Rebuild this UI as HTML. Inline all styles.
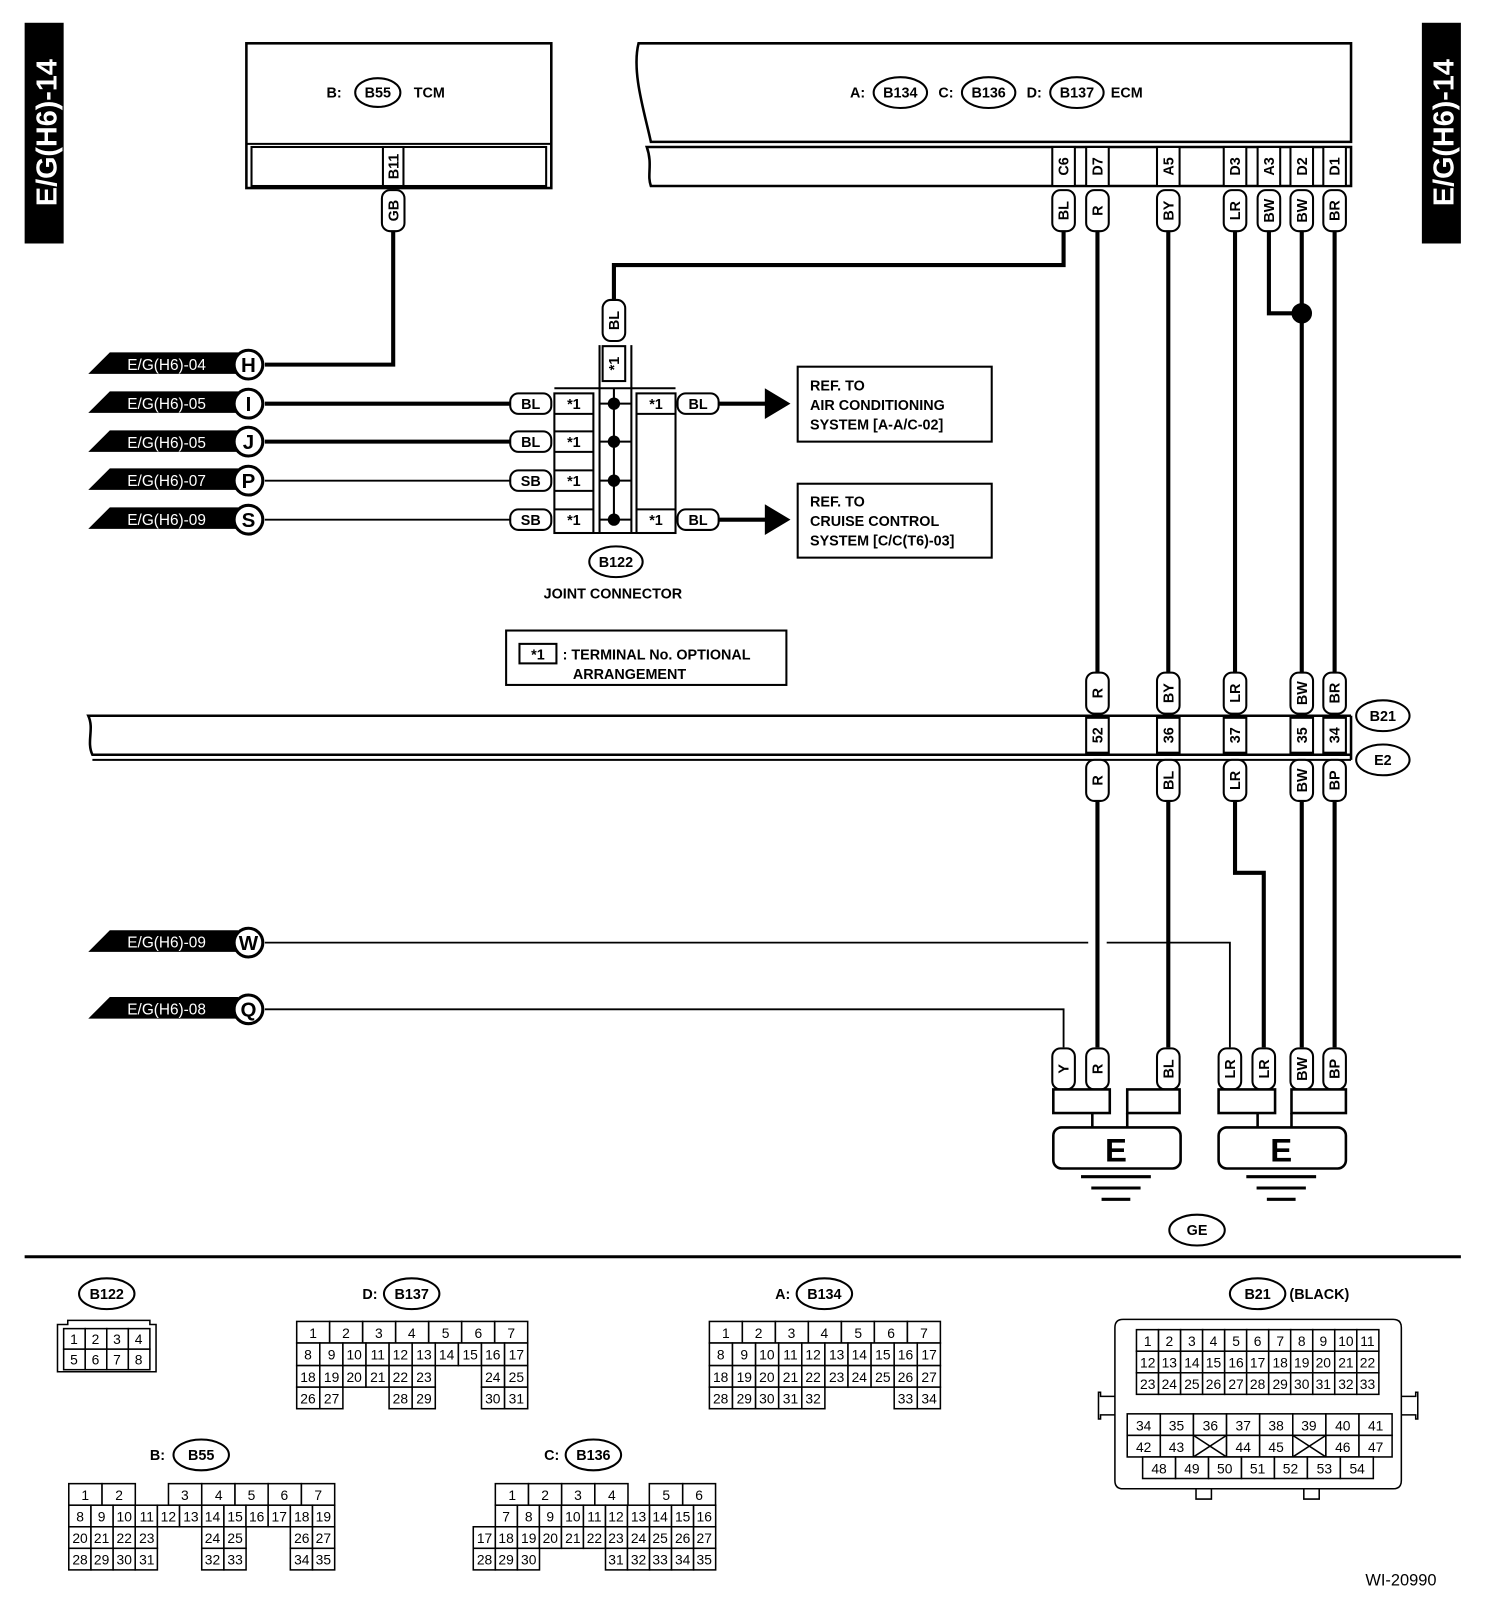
<!DOCTYPE html>
<html><head><meta charset="utf-8"><style>
html,body{margin:0;padding:0;background:#fff}
svg{display:block}
text{font-family:"Liberation Sans",sans-serif;font-weight:bold;font-size:14px;fill:#000}
.c rect{fill:#fff;stroke:#000;stroke-width:1.5}
.c text{font-size:13.5px;font-weight:normal;text-anchor:middle}
.p rect{fill:#fff;stroke:#000;stroke-width:2}
.p text{font-size:14px;text-anchor:middle}
.w{stroke:#000;stroke-width:4;fill:none}
.t{stroke:#000;stroke-width:1.8;fill:none}
.fl text{fill:#fff;font-weight:normal;font-size:15px}
</style></head><body>
<svg width="1504" height="1606" viewBox="0 0 1465 1564" xmlns="http://www.w3.org/2000/svg">
<rect x="24" y="22" width="38" height="215" fill="#000"/>
<text transform="translate(55,129) rotate(-90)" text-anchor="middle" style="fill:#fff;font-size:28px;font-weight:bold">E/G(H6)-14</text>
<rect x="1385" y="22" width="38" height="215" fill="#000"/>
<text transform="translate(1416,129) rotate(-90)" text-anchor="middle" style="fill:#fff;font-size:28px;font-weight:bold">E/G(H6)-14</text>

<rect x="240" y="42" width="297" height="141" fill="none" stroke="#000" stroke-width="2.5"/>
<rect x="245" y="143" width="287" height="38" fill="none" stroke="#000" stroke-width="2"/>
<line x1="240" y1="140" x2="537" y2="140" stroke="#000" stroke-width="2"/>
<text x="318" y="95">B:</text>
<ellipse cx="368" cy="90" rx="22" ry="14" fill="none" stroke="#000" stroke-width="2"/>
<text x="368" y="95" text-anchor="middle">B55</text>
<text x="403" y="95">TCM</text>
<g class="p"><g transform="translate(383,162) rotate(-90)"><rect x="-19" y="-10" width="38" height="20" rx="0"/><text y="5">B11</text></g></g>

<path d="M1316 42 H622 C615 70 628 110 634 138 H1316 Z" fill="none" stroke="#000" stroke-width="2.5"/>
<path d="M1316 143 H630 C636 160 630 170 634 181 H1316 Z" fill="none" stroke="#000" stroke-width="2.5"/>
<text x="828" y="95">A:</text>
<ellipse cx="877" cy="90" rx="26" ry="15" fill="none" stroke="#000" stroke-width="2"/><text x="877" y="95" text-anchor="middle">B134</text>
<text x="914" y="95">C:</text>
<ellipse cx="963" cy="90" rx="26" ry="15" fill="none" stroke="#000" stroke-width="2"/><text x="963" y="95" text-anchor="middle">B136</text>
<text x="1000" y="95">D:</text>
<ellipse cx="1049" cy="90" rx="26" ry="15" fill="none" stroke="#000" stroke-width="2"/><text x="1049" y="95" text-anchor="middle">B137</text>
<text x="1082" y="95">ECM</text>
<g class="p">
<g transform="translate(1036,162) rotate(-90)"><rect x="-19" y="-11" width="38" height="22"/><text y="5">C6</text></g>
<g transform="translate(1069,162) rotate(-90)"><rect x="-19" y="-11" width="38" height="22"/><text y="5">D7</text></g>
<g transform="translate(1138,162) rotate(-90)"><rect x="-19" y="-11" width="38" height="22"/><text y="5">A5</text></g>
<g transform="translate(1203,162) rotate(-90)"><rect x="-19" y="-11" width="38" height="22"/><text y="5">D3</text></g>
<g transform="translate(1236,162) rotate(-90)"><rect x="-19" y="-11" width="38" height="22"/><text y="5">A3</text></g>
<g transform="translate(1268,162) rotate(-90)"><rect x="-19" y="-11" width="38" height="22"/><text y="5">D2</text></g>
<g transform="translate(1300,162) rotate(-90)"><rect x="-19" y="-11" width="38" height="22"/><text y="5">D1</text></g>
</g>

<path class="w" d="M383 225 V355 H258"/>
<path class="w" d="M1036 225 V258 H598 V292"/>
<path class="w" d="M1069 225 V655 M1069 780 V1020"/>
<path class="w" d="M1138 225 V655 M1138 780 V1020"/>
<path class="w" d="M1203 225 V655 M1203 780 V850 H1231 V1020"/>
<path class="w" d="M1236 225 V305 H1268"/>
<circle cx="1268" cy="305" r="10" fill="#000"/>
<path class="w" d="M1268 225 V655 M1268 780 V1020"/>
<path class="w" d="M1300 225 V655 M1300 780 V1020"/>
<path class="w" d="M258 393 H497 M258 430 H497 M660 393 H748 M660 506 H748"/>
<path class="t" d="M258 468 H497 M258 506 H497"/>
<path class="t" d="M258 918 H1060 M1078 918 H1198 V1020"/>
<path class="t" d="M258 983 H1036 V1020"/>
<polygon points="745,378 770,393 745,408" fill="#000"/>
<polygon points="745,491 770,506 745,521" fill="#000"/>

<g class="p">
<g transform="translate(383,205) rotate(-90)"><rect x="-20" y="-11" width="40" height="22" rx="8"/><text y="5">GB</text></g>
<g transform="translate(1036,205) rotate(-90)"><rect x="-20" y="-11" width="40" height="22" rx="8"/><text y="5">BL</text></g>
<g transform="translate(1069,205) rotate(-90)"><rect x="-20" y="-11" width="40" height="22" rx="8"/><text y="5">R</text></g>
<g transform="translate(1138,205) rotate(-90)"><rect x="-20" y="-11" width="40" height="22" rx="8"/><text y="5">BY</text></g>
<g transform="translate(1203,205) rotate(-90)"><rect x="-20" y="-11" width="40" height="22" rx="8"/><text y="5">LR</text></g>
<g transform="translate(1236,205) rotate(-90)"><rect x="-20" y="-11" width="40" height="22" rx="8"/><text y="5">BW</text></g>
<g transform="translate(1268,205) rotate(-90)"><rect x="-20" y="-11" width="40" height="22" rx="8"/><text y="5">BW</text></g>
<g transform="translate(1300,205) rotate(-90)"><rect x="-20" y="-11" width="40" height="22" rx="8"/><text y="5">BR</text></g>
<g transform="translate(598,312) rotate(-90)"><rect x="-20" y="-11" width="40" height="22" rx="8"/><text y="5">BL</text></g>
<g transform="translate(598,354) rotate(-90)"><rect x="-17" y="-11" width="34" height="22"/><text y="5">*1</text></g>
</g>

<g class="fl">
<polygon points="86,364 107,343 232,343 232,364" fill="#000"/><text x="124" y="360">E/G(H6)-04</text>
<polygon points="86,402 107,381 232,381 232,402" fill="#000"/><text x="124" y="398">E/G(H6)-05</text>
<polygon points="86,440 107,419 232,419 232,440" fill="#000"/><text x="124" y="436">E/G(H6)-05</text>
<polygon points="86,477 107,456 232,456 232,477" fill="#000"/><text x="124" y="473">E/G(H6)-07</text>
<polygon points="86,515 107,494 232,494 232,515" fill="#000"/><text x="124" y="511">E/G(H6)-09</text>
<polygon points="86,927 107,906 232,906 232,927" fill="#000"/><text x="124" y="923">E/G(H6)-09</text>
<polygon points="86,992 107,971 232,971 232,992" fill="#000"/><text x="124" y="988">E/G(H6)-08</text>
</g>
<g fill="#fff" stroke="#000" stroke-width="3">
<circle cx="242" cy="355" r="14"/><circle cx="242" cy="393" r="14"/><circle cx="242" cy="430" r="14"/><circle cx="242" cy="468" r="14"/><circle cx="242" cy="506" r="14"/><circle cx="242" cy="918" r="14"/><circle cx="242" cy="983" r="14"/>
</g>
<g text-anchor="middle">
<text x="242" y="362" style="font-size:20px">H</text><text x="242" y="400" style="font-size:20px">I</text><text x="242" y="437" style="font-size:20px">J</text><text x="242" y="475" style="font-size:20px">P</text><text x="242" y="513" style="font-size:20px">S</text><text x="242" y="925" style="font-size:20px">W</text><text x="242" y="990" style="font-size:20px">Q</text>
</g>

<g class="p">
<rect x="497" y="383" width="40" height="20" rx="8"/><text x="517" y="398">BL</text>
<rect x="497" y="420" width="40" height="20" rx="8"/><text x="517" y="435">BL</text>
<rect x="497" y="458" width="40" height="20" rx="8"/><text x="517" y="473">SB</text>
<rect x="497" y="496" width="40" height="20" rx="8"/><text x="517" y="511">SB</text>
<rect x="660" y="383" width="40" height="20" rx="8"/><text x="680" y="398">BL</text>
<rect x="660" y="496" width="40" height="20" rx="8"/><text x="680" y="511">BL</text>
</g>
<g fill="none" stroke="#000" stroke-width="2">
<path d="M540 378 H658 M540 519 H658"/>
<rect x="540" y="383" width="38" height="136"/>
<path d="M540 403 H578 M540 420 H578 M540 440 H578 M540 458 H578 M540 478 H578 M540 496 H578"/>
<path d="M584 336 V519 M615 336 V519"/>
<rect x="620" y="383" width="38" height="136"/>
<path d="M620 403 H658 M620 496 H658"/>
<path d="M598 378 V506 M584 393 H615 M584 430 H615 M584 468 H615 M584 506 H615"/>
</g>
<g fill="#000"><circle cx="598" cy="393" r="6"/><circle cx="598" cy="430" r="6"/><circle cx="598" cy="468" r="6"/><circle cx="598" cy="506" r="6"/></g>
<g text-anchor="middle">
<text x="559" y="398">*1</text><text x="559" y="435">*1</text><text x="559" y="473">*1</text><text x="559" y="511">*1</text>
<text x="639" y="398">*1</text><text x="639" y="511">*1</text>
</g>
<ellipse cx="600" cy="547" rx="26" ry="15" fill="none" stroke="#000" stroke-width="2"/><text x="600" y="552" text-anchor="middle">B122</text>
<text x="597" y="583" text-anchor="middle">JOINT CONNECTOR</text>

<rect x="777" y="357" width="189" height="73" fill="none" stroke="#000" stroke-width="2"/>
<text x="789" y="380">REF. TO</text><text x="789" y="399">AIR CONDITIONING</text><text x="789" y="418">SYSTEM [A-A/C-02]</text>
<rect x="777" y="471" width="189" height="72" fill="none" stroke="#000" stroke-width="2"/>
<text x="789" y="493">REF. TO</text><text x="789" y="512">CRUISE CONTROL</text><text x="789" y="531">SYSTEM [C/C(T6)-03]</text>

<rect x="493" y="614" width="273" height="53" fill="none" stroke="#000" stroke-width="2"/>
<rect x="506" y="627" width="36" height="19" fill="none" stroke="#000" stroke-width="2"/>
<text x="524" y="642" text-anchor="middle">*1</text>
<text x="548" y="642">: TERMINAL No. OPTIONAL</text>
<text x="558" y="661">ARRANGEMENT</text>

<path d="M1316 697 H86 C92 710 84 722 90 735 H1316" fill="none" stroke="#000" stroke-width="2.5"/>
<path d="M1316 740 H90" fill="none" stroke="#000" stroke-width="2"/>
<path d="M1316 697 V740" stroke="#000" stroke-width="2.5"/>
<g class="p">
<g transform="translate(1069,716) rotate(-90)"><rect x="-17" y="-11" width="34" height="22"/><text y="5">52</text></g>
<g transform="translate(1138,716) rotate(-90)"><rect x="-17" y="-11" width="34" height="22"/><text y="5">36</text></g>
<g transform="translate(1203,716) rotate(-90)"><rect x="-17" y="-11" width="34" height="22"/><text y="5">37</text></g>
<g transform="translate(1268,716) rotate(-90)"><rect x="-17" y="-11" width="34" height="22"/><text y="5">35</text></g>
<g transform="translate(1300,716) rotate(-90)"><rect x="-17" y="-11" width="34" height="22"/><text y="5">34</text></g>
<g transform="translate(1069,675) rotate(-90)"><rect x="-20" y="-11" width="40" height="22" rx="8"/><text y="5">R</text></g>
<g transform="translate(1138,675) rotate(-90)"><rect x="-20" y="-11" width="40" height="22" rx="8"/><text y="5">BY</text></g>
<g transform="translate(1203,675) rotate(-90)"><rect x="-20" y="-11" width="40" height="22" rx="8"/><text y="5">LR</text></g>
<g transform="translate(1268,675) rotate(-90)"><rect x="-20" y="-11" width="40" height="22" rx="8"/><text y="5">BW</text></g>
<g transform="translate(1300,675) rotate(-90)"><rect x="-20" y="-11" width="40" height="22" rx="8"/><text y="5">BR</text></g>
<g transform="translate(1069,760) rotate(-90)"><rect x="-20" y="-11" width="40" height="22" rx="8"/><text y="5">R</text></g>
<g transform="translate(1138,760) rotate(-90)"><rect x="-20" y="-11" width="40" height="22" rx="8"/><text y="5">BL</text></g>
<g transform="translate(1203,760) rotate(-90)"><rect x="-20" y="-11" width="40" height="22" rx="8"/><text y="5">LR</text></g>
<g transform="translate(1268,760) rotate(-90)"><rect x="-20" y="-11" width="40" height="22" rx="8"/><text y="5">BW</text></g>
<g transform="translate(1300,760) rotate(-90)"><rect x="-20" y="-11" width="40" height="22" rx="8"/><text y="5">BP</text></g>
<g transform="translate(1036,1041) rotate(-90)"><rect x="-20" y="-11" width="40" height="22" rx="8"/><text y="5">Y</text></g>
<g transform="translate(1069,1041) rotate(-90)"><rect x="-20" y="-11" width="40" height="22" rx="8"/><text y="5">R</text></g>
<g transform="translate(1138,1041) rotate(-90)"><rect x="-20" y="-11" width="40" height="22" rx="8"/><text y="5">BL</text></g>
<g transform="translate(1198,1041) rotate(-90)"><rect x="-20" y="-11" width="40" height="22" rx="8"/><text y="5">LR</text></g>
<g transform="translate(1231,1041) rotate(-90)"><rect x="-20" y="-11" width="40" height="22" rx="8"/><text y="5">LR</text></g>
<g transform="translate(1268,1041) rotate(-90)"><rect x="-20" y="-11" width="40" height="22" rx="8"/><text y="5">BW</text></g>
<g transform="translate(1300,1041) rotate(-90)"><rect x="-20" y="-11" width="40" height="22" rx="8"/><text y="5">BP</text></g>
</g>
<ellipse cx="1347" cy="697" rx="26" ry="15" fill="#fff" stroke="#000" stroke-width="2"/><text x="1347" y="702" text-anchor="middle">B21</text>
<ellipse cx="1347" cy="740" rx="26" ry="15" fill="#fff" stroke="#000" stroke-width="2"/><text x="1347" y="745" text-anchor="middle">E2</text>

<g fill="#fff" stroke="#000" stroke-width="2.5">
<rect x="1026" y="1061" width="55" height="23"/><rect x="1098" y="1061" width="51" height="23"/>
<rect x="1187" y="1061" width="55" height="23"/><rect x="1258" y="1061" width="53" height="23"/>
<rect x="1026" y="1098" width="124" height="40" rx="8"/>
<rect x="1187" y="1098" width="124" height="40" rx="8"/>
<path d="M1064 1084 v14 M1098 1084 v14 M1225 1084 v14 M1258 1084 v14"/>
</g>
<text x="1087" y="1131" text-anchor="middle" style="font-size:32px">E</text>
<text x="1248" y="1131" text-anchor="middle" style="font-size:32px">E</text>
<path d="M1053 1146 H1121 M1063 1157 H1111 M1073 1168 H1101 M1214 1146 H1282 M1224 1157 H1272 M1234 1168 H1262" stroke="#000" stroke-width="3"/>
<ellipse cx="1166" cy="1198" rx="27" ry="15" fill="none" stroke="#000" stroke-width="2"/><text x="1166" y="1203" text-anchor="middle">GE</text>
<line x1="24" y1="1224" x2="1423" y2="1224" stroke="#000" stroke-width="3"/>

<ellipse cx="104" cy="1260" rx="27" ry="15" fill="none" stroke="#000" stroke-width="2"/><text x="104" y="1265" text-anchor="middle">B122</text>
<text x="353" y="1265">D:</text><ellipse cx="401" cy="1260" rx="27" ry="15" fill="none" stroke="#000" stroke-width="2"/><text x="401" y="1265" text-anchor="middle">B137</text>
<text x="755" y="1265">A:</text><ellipse cx="803" cy="1260" rx="27" ry="15" fill="none" stroke="#000" stroke-width="2"/><text x="803" y="1265" text-anchor="middle">B134</text>
<ellipse cx="1225" cy="1260" rx="27" ry="15" fill="none" stroke="#000" stroke-width="2"/><text x="1225" y="1265" text-anchor="middle">B21</text><text x="1256" y="1265">(BLACK)</text>
<text x="146" y="1422">B:</text><ellipse cx="196" cy="1417" rx="27" ry="15" fill="none" stroke="#000" stroke-width="2"/><text x="196" y="1422" text-anchor="middle">B55</text>
<text x="530" y="1422">C:</text><ellipse cx="578" cy="1417" rx="27" ry="15" fill="none" stroke="#000" stroke-width="2"/><text x="578" y="1422" text-anchor="middle">B136</text>
<text x="1330" y="1544" style="font-weight:normal;font-size:16px">WI-20990</text>

<g class="c">
<path d="M56 1290 H66 V1286 H146 V1290 H152 V1336 H56 Z" fill="#fff" stroke="#000" stroke-width="1.5"/>
<rect x="62" y="1294" width="21" height="20"/><text x="72" y="1309">1</text>
<rect x="83" y="1294" width="21" height="20"/><text x="93" y="1309">2</text>
<rect x="104" y="1294" width="21" height="20"/><text x="114" y="1309">3</text>
<rect x="125" y="1294" width="21" height="20"/><text x="135" y="1309">4</text>
<rect x="62" y="1314" width="21" height="20"/><text x="72" y="1329">5</text>
<rect x="83" y="1314" width="21" height="20"/><text x="93" y="1329">6</text>
<rect x="104" y="1314" width="21" height="20"/><text x="114" y="1329">7</text>
<rect x="125" y="1314" width="21" height="20"/><text x="135" y="1329">8</text>
</g>

<g class="c">
<rect x="289" y="1287" width="32.1" height="21"/><text x="305" y="1303">1</text>
<rect x="321.1" y="1287" width="32.1" height="21"/><text x="337" y="1303">2</text>
<rect x="353.3" y="1287" width="32.1" height="21"/><text x="369" y="1303">3</text>
<rect x="385.4" y="1287" width="32.1" height="21"/><text x="401" y="1303">4</text>
<rect x="417.6" y="1287" width="32.1" height="21"/><text x="434" y="1303">5</text>
<rect x="449.7" y="1287" width="32.1" height="21"/><text x="466" y="1303">6</text>
<rect x="481.9" y="1287" width="32.1" height="21"/><text x="498" y="1303">7</text>
<rect x="289" y="1308" width="22.5" height="22"/><text x="300" y="1324">8</text>
<rect x="311.5" y="1308" width="22.5" height="22"/><text x="323" y="1324">9</text>
<rect x="334" y="1308" width="22.5" height="22"/><text x="345" y="1324">10</text>
<rect x="356.5" y="1308" width="22.5" height="22"/><text x="368" y="1324">11</text>
<rect x="379" y="1308" width="22.5" height="22"/><text x="390" y="1324">12</text>
<rect x="401.5" y="1308" width="22.5" height="22"/><text x="413" y="1324">13</text>
<rect x="424" y="1308" width="22.5" height="22"/><text x="435" y="1324">14</text>
<rect x="446.5" y="1308" width="22.5" height="22"/><text x="458" y="1324">15</text>
<rect x="469" y="1308" width="22.5" height="22"/><text x="480" y="1324">16</text>
<rect x="491.5" y="1308" width="22.5" height="22"/><text x="503" y="1324">17</text>
<rect x="289" y="1330" width="22.5" height="21"/><text x="300" y="1346">18</text>
<rect x="311.5" y="1330" width="22.5" height="21"/><text x="323" y="1346">19</text>
<rect x="334" y="1330" width="22.5" height="21"/><text x="345" y="1346">20</text>
<rect x="356.5" y="1330" width="22.5" height="21"/><text x="368" y="1346">21</text>
<rect x="379" y="1330" width="22.5" height="21"/><text x="390" y="1346">22</text>
<rect x="401.5" y="1330" width="22.5" height="21"/><text x="413" y="1346">23</text>
<rect x="469" y="1330" width="22.5" height="21"/><text x="480" y="1346">24</text>
<rect x="491.5" y="1330" width="22.5" height="21"/><text x="503" y="1346">25</text>
<rect x="289" y="1351" width="22.5" height="21"/><text x="300" y="1367">26</text>
<rect x="311.5" y="1351" width="22.5" height="21"/><text x="323" y="1367">27</text>
<rect x="379" y="1351" width="22.5" height="21"/><text x="390" y="1367">28</text>
<rect x="401.5" y="1351" width="22.5" height="21"/><text x="413" y="1367">29</text>
<rect x="469" y="1351" width="22.5" height="21"/><text x="480" y="1367">30</text>
<rect x="491.5" y="1351" width="22.5" height="21"/><text x="503" y="1367">31</text>
</g>

<g class="c" transform="translate(402,0)">
<rect x="289" y="1287" width="32.1" height="21"/><text x="305" y="1303">1</text>
<rect x="321.1" y="1287" width="32.1" height="21"/><text x="337" y="1303">2</text>
<rect x="353.3" y="1287" width="32.1" height="21"/><text x="369" y="1303">3</text>
<rect x="385.4" y="1287" width="32.1" height="21"/><text x="401" y="1303">4</text>
<rect x="417.6" y="1287" width="32.1" height="21"/><text x="434" y="1303">5</text>
<rect x="449.7" y="1287" width="32.1" height="21"/><text x="466" y="1303">6</text>
<rect x="481.9" y="1287" width="32.1" height="21"/><text x="498" y="1303">7</text>
<rect x="289" y="1308" width="22.5" height="22"/><text x="300" y="1324">8</text>
<rect x="311.5" y="1308" width="22.5" height="22"/><text x="323" y="1324">9</text>
<rect x="334" y="1308" width="22.5" height="22"/><text x="345" y="1324">10</text>
<rect x="356.5" y="1308" width="22.5" height="22"/><text x="368" y="1324">11</text>
<rect x="379" y="1308" width="22.5" height="22"/><text x="390" y="1324">12</text>
<rect x="401.5" y="1308" width="22.5" height="22"/><text x="413" y="1324">13</text>
<rect x="424" y="1308" width="22.5" height="22"/><text x="435" y="1324">14</text>
<rect x="446.5" y="1308" width="22.5" height="22"/><text x="458" y="1324">15</text>
<rect x="469" y="1308" width="22.5" height="22"/><text x="480" y="1324">16</text>
<rect x="491.5" y="1308" width="22.5" height="22"/><text x="503" y="1324">17</text>
<rect x="289" y="1330" width="22.5" height="21"/><text x="300" y="1346">18</text>
<rect x="311.5" y="1330" width="22.5" height="21"/><text x="323" y="1346">19</text>
<rect x="334" y="1330" width="22.5" height="21"/><text x="345" y="1346">20</text>
<rect x="356.5" y="1330" width="22.5" height="21"/><text x="368" y="1346">21</text>
<rect x="379" y="1330" width="22.5" height="21"/><text x="390" y="1346">22</text>
<rect x="401.5" y="1330" width="22.5" height="21"/><text x="413" y="1346">23</text>
<rect x="424" y="1330" width="22.5" height="21"/><text x="435" y="1346">24</text>
<rect x="446.5" y="1330" width="22.5" height="21"/><text x="458" y="1346">25</text>
<rect x="469" y="1330" width="22.5" height="21"/><text x="480" y="1346">26</text>
<rect x="491.5" y="1330" width="22.5" height="21"/><text x="503" y="1346">27</text>
<rect x="289" y="1351" width="22.5" height="21"/><text x="300" y="1367">28</text>
<rect x="311.5" y="1351" width="22.5" height="21"/><text x="323" y="1367">29</text>
<rect x="334" y="1351" width="22.5" height="21"/><text x="345" y="1367">30</text>
<rect x="356.5" y="1351" width="22.5" height="21"/><text x="368" y="1367">31</text>
<rect x="379" y="1351" width="22.5" height="21"/><text x="390" y="1367">32</text>
<rect x="469" y="1351" width="22.5" height="21"/><text x="480" y="1367">33</text>
<rect x="491.5" y="1351" width="22.5" height="21"/><text x="503" y="1367">34</text>
</g>

<g class="c">
<rect x="67" y="1445" width="32.4" height="21"/><text x="83" y="1461">1</text>
<rect x="99.4" y="1445" width="32.4" height="21"/><text x="116" y="1461">2</text>
<rect x="164.1" y="1445" width="32.4" height="21"/><text x="180" y="1461">3</text>
<rect x="196.5" y="1445" width="32.4" height="21"/><text x="213" y="1461">4</text>
<rect x="228.9" y="1445" width="32.4" height="21"/><text x="245" y="1461">5</text>
<rect x="261.2" y="1445" width="32.4" height="21"/><text x="277" y="1461">6</text>
<rect x="293.6" y="1445" width="32.4" height="21"/><text x="310" y="1461">7</text>
<rect x="67" y="1466" width="21.6" height="21"/><text x="78" y="1482">8</text>
<rect x="88.6" y="1466" width="21.6" height="21"/><text x="99" y="1482">9</text>
<rect x="110.2" y="1466" width="21.6" height="21"/><text x="121" y="1482">10</text>
<rect x="131.7" y="1466" width="21.6" height="21"/><text x="143" y="1482">11</text>
<rect x="153.3" y="1466" width="21.6" height="21"/><text x="164" y="1482">12</text>
<rect x="174.9" y="1466" width="21.6" height="21"/><text x="186" y="1482">13</text>
<rect x="196.5" y="1466" width="21.6" height="21"/><text x="207" y="1482">14</text>
<rect x="218.1" y="1466" width="21.6" height="21"/><text x="229" y="1482">15</text>
<rect x="239.6" y="1466" width="21.6" height="21"/><text x="250" y="1482">16</text>
<rect x="261.2" y="1466" width="21.6" height="21"/><text x="272" y="1482">17</text>
<rect x="282.8" y="1466" width="21.6" height="21"/><text x="294" y="1482">18</text>
<rect x="304.4" y="1466" width="21.6" height="21"/><text x="315" y="1482">19</text>
<rect x="67" y="1487" width="21.6" height="21"/><text x="78" y="1503">20</text>
<rect x="88.6" y="1487" width="21.6" height="21"/><text x="99" y="1503">21</text>
<rect x="110.2" y="1487" width="21.6" height="21"/><text x="121" y="1503">22</text>
<rect x="131.7" y="1487" width="21.6" height="21"/><text x="143" y="1503">23</text>
<rect x="196.5" y="1487" width="21.6" height="21"/><text x="207" y="1503">24</text>
<rect x="218.1" y="1487" width="21.6" height="21"/><text x="229" y="1503">25</text>
<rect x="282.8" y="1487" width="21.6" height="21"/><text x="294" y="1503">26</text>
<rect x="304.4" y="1487" width="21.6" height="21"/><text x="315" y="1503">27</text>
<rect x="67" y="1508" width="21.6" height="21"/><text x="78" y="1524">28</text>
<rect x="88.6" y="1508" width="21.6" height="21"/><text x="99" y="1524">29</text>
<rect x="110.2" y="1508" width="21.6" height="21"/><text x="121" y="1524">30</text>
<rect x="131.7" y="1508" width="21.6" height="21"/><text x="143" y="1524">31</text>
<rect x="196.5" y="1508" width="21.6" height="21"/><text x="207" y="1524">32</text>
<rect x="218.1" y="1508" width="21.6" height="21"/><text x="229" y="1524">33</text>
<rect x="282.8" y="1508" width="21.6" height="21"/><text x="294" y="1524">34</text>
<rect x="304.4" y="1508" width="21.6" height="21"/><text x="315" y="1524">35</text>
</g>

<g class="c">
<rect x="482.5" y="1445" width="32.3" height="21"/><text x="499" y="1461">1</text>
<rect x="514.8" y="1445" width="32.3" height="21"/><text x="531" y="1461">2</text>
<rect x="547.1" y="1445" width="32.3" height="21"/><text x="563" y="1461">3</text>
<rect x="579.4" y="1445" width="32.3" height="21"/><text x="596" y="1461">4</text>
<rect x="632.5" y="1445" width="32.5" height="21"/><text x="649" y="1461">5</text>
<rect x="665" y="1445" width="32" height="21"/><text x="681" y="1461">6</text>
<rect x="482.5" y="1466" width="21.5" height="21"/><text x="493" y="1482">7</text>
<rect x="504" y="1466" width="21.5" height="21"/><text x="515" y="1482">8</text>
<rect x="525.4" y="1466" width="21.5" height="21"/><text x="536" y="1482">9</text>
<rect x="546.9" y="1466" width="21.5" height="21"/><text x="558" y="1482">10</text>
<rect x="568.3" y="1466" width="21.5" height="21"/><text x="579" y="1482">11</text>
<rect x="589.8" y="1466" width="21.5" height="21"/><text x="600" y="1482">12</text>
<rect x="611.2" y="1466" width="21.5" height="21"/><text x="622" y="1482">13</text>
<rect x="632.7" y="1466" width="21.5" height="21"/><text x="643" y="1482">14</text>
<rect x="654.1" y="1466" width="21.5" height="21"/><text x="665" y="1482">15</text>
<rect x="675.6" y="1466" width="21.5" height="21"/><text x="686" y="1482">16</text>
<rect x="461" y="1487" width="21.5" height="21"/><text x="472" y="1503">17</text>
<rect x="482.5" y="1487" width="21.5" height="21"/><text x="493" y="1503">18</text>
<rect x="504" y="1487" width="21.5" height="21"/><text x="515" y="1503">19</text>
<rect x="525.4" y="1487" width="21.5" height="21"/><text x="536" y="1503">20</text>
<rect x="546.9" y="1487" width="21.5" height="21"/><text x="558" y="1503">21</text>
<rect x="568.3" y="1487" width="21.5" height="21"/><text x="579" y="1503">22</text>
<rect x="589.8" y="1487" width="21.5" height="21"/><text x="600" y="1503">23</text>
<rect x="611.2" y="1487" width="21.5" height="21"/><text x="622" y="1503">24</text>
<rect x="632.7" y="1487" width="21.5" height="21"/><text x="643" y="1503">25</text>
<rect x="654.1" y="1487" width="21.5" height="21"/><text x="665" y="1503">26</text>
<rect x="675.6" y="1487" width="21.5" height="21"/><text x="686" y="1503">27</text>
<rect x="461" y="1508" width="21.5" height="21"/><text x="472" y="1524">28</text>
<rect x="482.5" y="1508" width="21.5" height="21"/><text x="493" y="1524">29</text>
<rect x="504" y="1508" width="21.5" height="21"/><text x="515" y="1524">30</text>
<rect x="589.8" y="1508" width="21.5" height="21"/><text x="600" y="1524">31</text>
<rect x="611.2" y="1508" width="21.5" height="21"/><text x="622" y="1524">32</text>
<rect x="632.7" y="1508" width="21.5" height="21"/><text x="643" y="1524">33</text>
<rect x="654.1" y="1508" width="21.5" height="21"/><text x="665" y="1524">34</text>
<rect x="675.6" y="1508" width="21.5" height="21"/><text x="686" y="1524">35</text>
</g>

<g fill="none" stroke="#000" stroke-width="1.5">
<path d="M1094 1285 H1357 Q1365 1285 1365 1293 V1442 Q1365 1450 1357 1450 H1094 Q1086 1450 1086 1442 V1293 Q1086 1285 1094 1285 Z" fill="#fff"/>
<path d="M1086 1360 H1072 V1356 H1070 V1382 H1072 V1378 H1086"/>
<path d="M1365 1360 H1379 V1356 H1381 V1382 H1379 V1378 H1365"/>
<path d="M1165 1450 V1460 H1180 V1450 M1270 1450 V1460 H1285 V1450"/>
</g>
<g class="c">
<rect x="1107" y="1295" width="21.5" height="21"/><text x="1118" y="1311">1</text>
<rect x="1128.5" y="1295" width="21.5" height="21"/><text x="1139" y="1311">2</text>
<rect x="1150" y="1295" width="21.5" height="21"/><text x="1161" y="1311">3</text>
<rect x="1171.4" y="1295" width="21.5" height="21"/><text x="1182" y="1311">4</text>
<rect x="1192.9" y="1295" width="21.5" height="21"/><text x="1204" y="1311">5</text>
<rect x="1214.3" y="1295" width="21.5" height="21"/><text x="1225" y="1311">6</text>
<rect x="1235.8" y="1295" width="21.5" height="21"/><text x="1247" y="1311">7</text>
<rect x="1257.2" y="1295" width="21.5" height="21"/><text x="1268" y="1311">8</text>
<rect x="1278.7" y="1295" width="21.5" height="21"/><text x="1289" y="1311">9</text>
<rect x="1300.1" y="1295" width="21.5" height="21"/><text x="1311" y="1311">10</text>
<rect x="1321.6" y="1295" width="21.5" height="21"/><text x="1332" y="1311">11</text>
<rect x="1107" y="1316" width="21.5" height="21"/><text x="1118" y="1332">12</text>
<rect x="1128.5" y="1316" width="21.5" height="21"/><text x="1139" y="1332">13</text>
<rect x="1150" y="1316" width="21.5" height="21"/><text x="1161" y="1332">14</text>
<rect x="1171.4" y="1316" width="21.5" height="21"/><text x="1182" y="1332">15</text>
<rect x="1192.9" y="1316" width="21.5" height="21"/><text x="1204" y="1332">16</text>
<rect x="1214.3" y="1316" width="21.5" height="21"/><text x="1225" y="1332">17</text>
<rect x="1235.8" y="1316" width="21.5" height="21"/><text x="1247" y="1332">18</text>
<rect x="1257.2" y="1316" width="21.5" height="21"/><text x="1268" y="1332">19</text>
<rect x="1278.7" y="1316" width="21.5" height="21"/><text x="1289" y="1332">20</text>
<rect x="1300.1" y="1316" width="21.5" height="21"/><text x="1311" y="1332">21</text>
<rect x="1321.6" y="1316" width="21.5" height="21"/><text x="1332" y="1332">22</text>
<rect x="1107" y="1337" width="21.5" height="21"/><text x="1118" y="1353">23</text>
<rect x="1128.5" y="1337" width="21.5" height="21"/><text x="1139" y="1353">24</text>
<rect x="1150" y="1337" width="21.5" height="21"/><text x="1161" y="1353">25</text>
<rect x="1171.4" y="1337" width="21.5" height="21"/><text x="1182" y="1353">26</text>
<rect x="1192.9" y="1337" width="21.5" height="21"/><text x="1204" y="1353">27</text>
<rect x="1214.3" y="1337" width="21.5" height="21"/><text x="1225" y="1353">28</text>
<rect x="1235.8" y="1337" width="21.5" height="21"/><text x="1247" y="1353">29</text>
<rect x="1257.2" y="1337" width="21.5" height="21"/><text x="1268" y="1353">30</text>
<rect x="1278.7" y="1337" width="21.5" height="21"/><text x="1289" y="1353">31</text>
<rect x="1300.1" y="1337" width="21.5" height="21"/><text x="1311" y="1353">32</text>
<rect x="1321.6" y="1337" width="21.5" height="21"/><text x="1332" y="1353">33</text>
<rect x="1098" y="1377" width="32.25" height="21"/><text x="1114" y="1393">34</text>
<rect x="1130.25" y="1377" width="32.25" height="21"/><text x="1146" y="1393">35</text>
<rect x="1162.5" y="1377" width="32.25" height="21"/><text x="1179" y="1393">36</text>
<rect x="1194.75" y="1377" width="32.25" height="21"/><text x="1211" y="1393">37</text>
<rect x="1227" y="1377" width="32.25" height="21"/><text x="1243" y="1393">38</text>
<rect x="1259.25" y="1377" width="32.25" height="21"/><text x="1275" y="1393">39</text>
<rect x="1291.5" y="1377" width="32.25" height="21"/><text x="1308" y="1393">40</text>
<rect x="1323.75" y="1377" width="32.25" height="21"/><text x="1340" y="1393">41</text>
<rect x="1098" y="1398" width="32.25" height="21"/><text x="1114" y="1414">42</text>
<rect x="1130.25" y="1398" width="32.25" height="21"/><text x="1146" y="1414">43</text>
<rect x="1162.5" y="1398" width="32.25" height="21"/>
<rect x="1194.75" y="1398" width="32.25" height="21"/><text x="1211" y="1414">44</text>
<rect x="1227" y="1398" width="32.25" height="21"/><text x="1243" y="1414">45</text>
<rect x="1259.25" y="1398" width="32.25" height="21"/>
<rect x="1291.5" y="1398" width="32.25" height="21"/><text x="1308" y="1414">46</text>
<rect x="1323.75" y="1398" width="32.25" height="21"/><text x="1340" y="1414">47</text>
<rect x="1113" y="1419" width="32.1" height="21"/><text x="1129" y="1435">48</text>
<rect x="1145.1" y="1419" width="32.1" height="21"/><text x="1161" y="1435">49</text>
<rect x="1177.2" y="1419" width="32.1" height="21"/><text x="1193" y="1435">50</text>
<rect x="1209.3" y="1419" width="32.1" height="21"/><text x="1225" y="1435">51</text>
<rect x="1241.4" y="1419" width="32.1" height="21"/><text x="1257" y="1435">52</text>
<rect x="1273.5" y="1419" width="32.1" height="21"/><text x="1290" y="1435">53</text>
<rect x="1305.6" y="1419" width="32.1" height="21"/><text x="1322" y="1435">54</text>
</g>
<path d="M1162.5 1398 L1194.75 1419 M1194.75 1398 L1162.5 1419 M1259.25 1398 L1291.5 1419 M1291.5 1398 L1259.25 1419" stroke="#000" stroke-width="1.5"/>
</svg>
</body></html>
